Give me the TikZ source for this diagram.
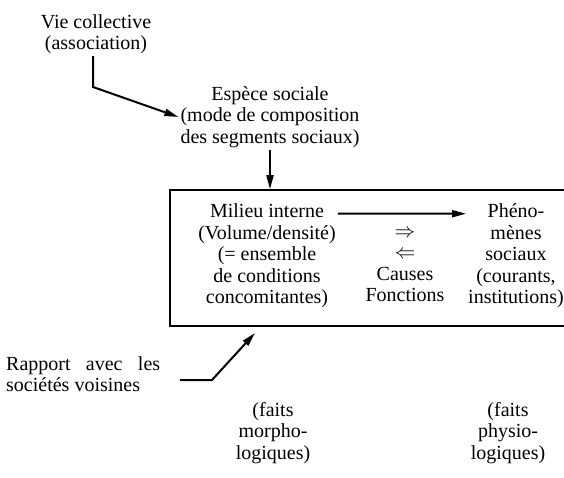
\documentclass[tikz,border=0pt]{standalone}
\usepackage{fontspec}
\setmainfont{Liberation Serif}
\usetikzlibrary{arrows.meta}

\begin{document}
\begin{tikzpicture}[x=1pt, y=-1pt,
	>={Triangle[length=14pt, width=7pt]},
	every node/.style={align=center, inner sep=2pt,
		font=\fontsize{20}{21.5}\selectfont}]
	\useasboundingbox (0,0) rectangle (564,478);

	\draw (96,34)node(vie) {Vie collective\\(association)};
	\draw (270,117)node(espece) {Esp\`ece sociale\\(mode de composition\\des segments sociaux)};

	\draw (372,258)node[draw = black, line width = 1.5pt,
					 minimum width = 404, minimum height = 136](cadre) {};
	\draw (267,256)node(milieu) {Milieu interne\\(Volume/densit\'e)\\(= ensemble\\de conditions\\concomitantes)};
	\draw (405,266)node(causes) {$\Rightarrow$\\$\Leftarrow$\\Causes\\Fonctions};
	\draw (516,256)node(phenomenes) {Ph\'eno-\\m\`enes\\sociaux\\(courants,\\institutions)};

	\draw (4,374)node[anchor = west, align = left](rapport) {\makebox[154pt][s]{Rapport avec les}\\soci\'et\'es voisines};
	\draw (273,433)node(morpho) {(faits\\morpho-\\logiques)};
	\draw (508,433)node(physio) {(faits\\physio-\\logiques)};

	\coordinate (coude) at (93,87);
	\coordinate (depart) at (180,380);
	\coordinate (pli) at (212,380);
	\coordinate (cible) at (255,333);

	\draw[->, line width = 2pt] (vie.south -| coude) -- (coude) -- (espece.west);
	\draw[->, line width = 2pt] (espece.south) -- (espece.south |- cadre.north);
	\draw[->, line width = 2pt] ([yshift=-12pt]milieu.north east) -- ([yshift=-12pt]phenomenes.north west);
	\draw[->, line width = 2pt] (depart) -- (pli) -- (cible);
\end{tikzpicture}
\end{document}
